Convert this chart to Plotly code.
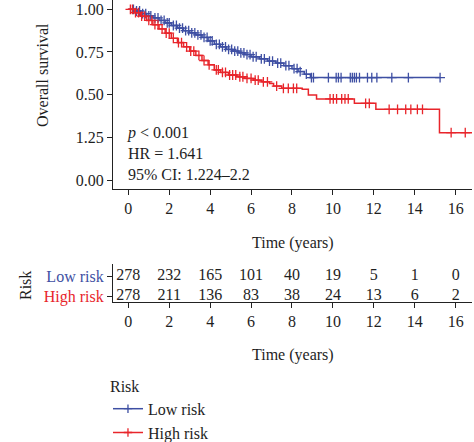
import numpy as np
import plotly.graph_objects as go

# ---- data ----
low_t = [0, 0.3, 0.6, 0.9, 1.2, 1.5, 1.8, 2.1, 2.4, 2.7, 3.0, 3.3, 3.6, 3.9, 4.2, 4.5, 4.8, 5.1,
         5.4, 5.7, 6.0, 6.4, 6.8, 7.2, 7.6, 8.0, 8.3, 8.6, 8.9, 15.24]
low_s = [1.0, 0.99, 0.975, 0.962, 0.95, 0.935, 0.92, 0.905, 0.89, 0.875, 0.862, 0.85, 0.835, 0.815,
         0.795, 0.78, 0.765, 0.755, 0.745, 0.735, 0.722, 0.71, 0.697, 0.685, 0.67, 0.652, 0.635, 0.62,
         0.60, 0.60]
high_t = [0, 0.3, 0.6, 0.9, 1.2, 1.5, 1.8, 2.1, 2.4, 2.7, 3.0, 3.3, 3.6, 3.9, 4.2, 4.5, 4.9, 5.3,
          5.7, 6.1, 6.5, 6.9, 7.1, 7.5, 8.5, 8.8, 9.2, 11.05, 12.1, 15.21, 16.8]
high_s = [1.0, 0.98, 0.96, 0.935, 0.91, 0.885, 0.86, 0.83, 0.805, 0.78, 0.755, 0.73, 0.70, 0.675,
          0.645, 0.63, 0.615, 0.605, 0.595, 0.585, 0.575, 0.565, 0.55, 0.537, 0.531, 0.498, 0.475,
          0.449, 0.414, 0.277, 0.277]

low_cens = [0.25, 0.4, 0.55, 0.7, 0.85, 1.0, 1.1, 1.3, 1.45, 1.6, 1.75, 1.9, 2.0, 2.2, 2.35, 2.5,
            2.65, 2.8, 2.95, 3.1, 3.25, 3.4, 3.55, 3.7, 3.85, 4.0, 4.1, 4.3, 4.45, 4.6, 4.75, 4.9,
            5.05, 5.2, 5.35, 5.5, 5.65, 5.8, 5.95, 6.1, 6.25, 6.5, 6.65, 6.9, 7.05, 7.3, 7.45, 7.7,
            7.85, 8.1, 8.25, 8.4, 8.7, 8.95, 9.05, 9.78, 10.16, 10.27, 10.4, 10.85, 10.95, 11.05,
            11.15, 11.3, 11.69, 11.9, 12.15, 12.88, 13.69, 15.24]
high_cens = [0.1, 0.2, 0.35, 0.5, 0.65, 0.8, 1.0, 1.15, 1.3, 1.45, 1.65, 1.85, 2.0, 2.2, 2.45,
             2.6, 2.85, 3.05, 3.2, 3.45, 3.7, 3.95, 4.3, 4.4, 4.6, 4.75, 4.95, 5.1, 5.25, 5.45,
             5.6, 5.8, 6.0, 6.2, 6.35, 6.6, 6.8, 7.25, 7.58, 7.82, 8.07, 8.23, 9.86, 10.02, 10.18,
             10.43, 10.59, 10.75, 11.6, 11.78, 12.75, 13.16, 13.56, 13.81, 14.13, 14.38, 15.78,
             16.47]

table_times = [0, 2, 4, 6, 8, 10, 12, 14, 16]
low_risk_n = [278, 232, 165, 101, 40, 19, 5, 1, 0]
high_risk_n = [278, 211, 136, 83, 38, 24, 13, 6, 2]
groups = ["Low risk", "High risk"]

y_tickvals = [0, 0.25, 0.5, 0.75, 1.0]
y_ticktext = ["0.00", "1.25", "0.50", "0.75", "1.00"]
x_ticks = [0, 2, 4, 6, 8, 10, 12, 14, 16]

BLUE = "#3E4FA3"
RED = "#E8252B"
FONT = "Liberation Serif"
TXT = "#1e1e1e"


def step_at(ts, ss, c):
    idx = np.searchsorted(np.array(ts), np.array(c), side="right") - 1
    return [ss[i] for i in idx]


fig = go.Figure()
for name, ts, ss, cens, col in [("Low risk", low_t, low_s, low_cens, BLUE),
                                 ("High risk", high_t, high_s, high_cens, RED)]:
    fig.add_trace(go.Scatter(x=ts, y=ss, mode="lines", line=dict(color=col, width=1.5, shape="hv"),
                             showlegend=False, xaxis="x", yaxis="y"))
    fig.add_trace(go.Scatter(x=cens, y=step_at(ts, ss, cens), mode="markers",
                             marker=dict(symbol="cross-thin", size=7, line=dict(width=1.3, color=col)),
                             showlegend=False, xaxis="x", yaxis="y"))
    fig.add_trace(go.Scatter(x=[None], y=[None], mode="lines+markers", name=name,
                             line=dict(color=col, width=1.5),
                             marker=dict(symbol="cross-thin", size=6, line=dict(width=1.3, color=col)),
                             xaxis="x", yaxis="y"))

# risk table
fig.add_trace(go.Scatter(x=table_times, y=[1] * len(table_times), mode="text",
                         text=[str(v) for v in low_risk_n], textfont=dict(size=16, family=FONT, color=TXT),
                         showlegend=False, xaxis="x2", yaxis="y2"))
fig.add_trace(go.Scatter(x=table_times, y=[0] * len(table_times), mode="text",
                         text=[str(v) for v in high_risk_n], textfont=dict(size=16, family=FONT, color=TXT),
                         showlegend=False, xaxis="x2", yaxis="y2"))

H = 442.0
def py(px):
    return 1 - px / H

axis_common = dict(showline=True, linecolor="#222", linewidth=1.2, ticks="outside", ticklen=5,
                   tickcolor="#222", showgrid=False, zeroline=False,
                   tickfont=dict(size=16, family=FONT, color=TXT))

fig.update_layout(
    width=474, height=442,
    margin=dict(l=113, r=2, t=0, b=0, autoexpand=False),
    paper_bgcolor="white", plot_bgcolor="white",
    font=dict(family=FONT, size=16, color=TXT),
    xaxis=dict(domain=[0, 1], anchor="y", range=[-0.75, 16.8], tickvals=x_ticks, **axis_common),
    yaxis=dict(domain=[py(189), 1.0], anchor="x", range=[-0.0527, 1.0545], tickvals=y_tickvals,
               ticktext=y_ticktext, **axis_common),
    xaxis2=dict(domain=[0, 1], anchor="y2", range=[-0.75, 16.8], tickvals=x_ticks, **axis_common),
    yaxis2=dict(domain=[py(302), py(264)], anchor="x2", range=[-0.3, 1.6], tickvals=[1, 0],
                ticktext=[f"<span style='color:{BLUE}'>{groups[0]}</span>",
                          f"<span style='color:{RED}'>{groups[1]}</span>"], **axis_common),
    legend=dict(title=dict(text="Risk", font=dict(size=16, family=FONT, color=TXT)),
                x=-0.014, xanchor="left", y=py(371), yanchor="top",
                font=dict(size=16, family=FONT, color=TXT), bgcolor="rgba(0,0,0,0)",
                tracegroupgap=0, itemwidth=30),
    annotations=[
        dict(text="<i>p</i> &lt; 0.001<br>HR = 1.641<br>95% CI: 1.224–2.2", xref="paper", yref="paper",
             x=(125 - 113) / 359, y=py(153), xanchor="left", yanchor="middle", align="left",
             showarrow=False, font=dict(size=16, family=FONT, color=TXT)),
        dict(text="Overall survival", xref="paper", yref="paper", x=(42 - 113) / 359, y=py(75),
             textangle=-90, showarrow=False, xanchor="center", yanchor="middle",
             font=dict(size=16, family=FONT, color=TXT)),
        dict(text="Time (years)", xref="paper", yref="paper", x=0.5, y=py(243), showarrow=False,
             xanchor="center", yanchor="middle", font=dict(size=16, family=FONT, color=TXT)),
        dict(text="Time (years)", xref="paper", yref="paper", x=0.5, y=py(355), showarrow=False,
             xanchor="center", yanchor="middle", font=dict(size=16, family=FONT, color=TXT)),
        dict(text="Risk", xref="paper", yref="paper", x=(25 - 113) / 359, y=py(286), textangle=-90,
             showarrow=False, xanchor="center", yanchor="middle",
             font=dict(size=16, family=FONT, color=TXT)),
    ],
)

fig.write_html("out.html", config={"displayModeBar": False},
               post_script="document.body.style.margin='0';document.body.style.overflow='hidden';")
